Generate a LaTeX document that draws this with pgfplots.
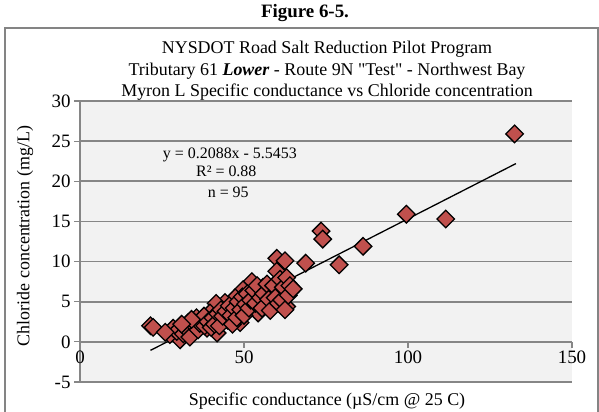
\documentclass[border=0pt]{standalone}
\usepackage{pgfplots}
\pgfplotsset{compat=1.18}
\usepackage{fontspec}
\setmainfont{Liberation Serif}[Ligatures=TeXOff]
\definecolor{bgc}{HTML}{F2F2F2}
\definecolor{gridc}{HTML}{868686}
\definecolor{markc}{HTML}{C0504D}
\definecolor{framec}{HTML}{848484}
\begin{document}
\begin{tikzpicture}
\useasboundingbox (0,0) rectangle (599bp,-412bp);
\draw[framec, line width=1.5bp] (5bp,-412bp) -- (5bp,-28bp) -- (598bp,-28bp) -- (598bp,-412bp);
\node[font=\fontsize{19}{22}\selectfont\bfseries] at (305bp,-13bp) {Figure 6-5.};
\node[font=\fontsize{18}{22}\selectfont] at (327bp,-49bp) {NYSDOT Road Salt Reduction Pilot Program};
\node[font=\fontsize{18}{22}\selectfont] at (327bp,-71bp) {Tributary 61 \textbf{\textit{Lower}} - Route 9N "Test" - Northwest Bay};
\node[font=\fontsize{18}{22}\selectfont] at (327bp,-92bp) {Myron L Specific conductance vs Chloride concentration};
\node[font=\fontsize{18}{22}\selectfont, rotate=90] at (25bp,-236bp) {Chloride concentration (mg/L)};
\node[font=\fontsize{18}{22}\selectfont] at (327bp,-401bp) {Specific conductance (µS/cm @ 25 C)};
\begin{axis}[
  at={(80bp,-382bp)}, anchor=south west,
  scale only axis, width=492bp, height=281bp,
  xmin=0, xmax=150, ymin=-5, ymax=30,
  xtick={0,50,100,150}, ytick={-5,0,5,10,15,20,25,30},
  axis x line=middle, axis y line=left,
  hide obscured x ticks=false,
  axis line style={-, gridc, line width=1.5bp},
  tick style={gridc, line width=1.2bp},
  tick align=outside, major tick length=6bp,
  ymajorgrids, grid style={gridc, line width=1.8bp},
  axis background/.style={fill=bgc},
  tick label style={font=\fontsize{19}{22}\selectfont},
  /pgf/number format/assume math mode=true,
  clip=false,
]
\addplot[only marks, mark=square*, mark size=6.2bp,
  mark options={rotate=45, fill=markc, draw=black, line width=1.3bp}]
  coordinates {
(132.5,25.9) (111.5,15.3) (99.5,15.9) (86.3,11.9) (79.0,9.6) (73.5,13.8) (74.0,12.8)
(68.8,9.8) (60.0,10.4) (62.5,10.1) (60.0,8.8) (63.4,7.3) (64.0,6.2) (63.0,4.4)
(61.6,6.1) (58.8,6.1) (58.5,4.6) (56.4,5.0) (55.8,6.8) (54.3,3.6) (52.4,7.5)
(52.7,5.9) (49.7,6.5) (47.3,5.5) (44.2,4.9) (45.0,2.7) (48.8,2.4) (41.5,4.8)
(41.8,1.1) (43.6,2.7) (39.6,3.6) (38.7,1.7) (37.2,2.7) (34.5,1.2) (33.0,2.4)
(30.5,0.25) (27.4,0.9) (28.4,1.7) (21.5,2.0) (22.3,1.8)
(29.5,1.3) (31.5,1.0) (32.0,1.8) (33.5,0.6) (35.0,2.0) (35.5,3.0) (36.0,1.5)
(36.5,2.3) (37.8,3.2) (38.0,2.0) (39.0,2.5) (40.0,1.8) (40.5,3.0) (41.0,2.2)
(42.0,3.5) (42.5,2.0) (43.0,4.0) (43.5,3.2) (44.5,3.8) (45.5,4.5) (46.0,3.3)
(46.5,2.2) (47.0,4.2) (47.8,3.0) (48.2,5.0) (49.0,4.0) (49.5,5.6) (50.0,3.3)
(50.5,4.7) (51.0,6.0) (51.5,4.2) (52.0,5.2) (53.0,6.4) (53.5,4.8) (54.0,7.0)
(55.0,5.5) (55.5,4.2) (56.0,6.0) (57.0,7.2) (57.5,5.3) (58.0,3.9) (59.0,7.0)
(59.5,5.5) (60.5,4.8) (61.0,7.8) (61.5,5.2) (62.0,6.8) (62.5,4.0) (63.0,8.0)
(63.5,5.8) (64.0,7.0) (65.0,6.6) (34.0,2.8) (26.0,1.2) (31.0,2.2)
  };
\addplot[black, line width=1.3bp] coordinates {(21.5,-1.056) (132.9,22.205)};
\node[font=\fontsize{16}{18}\selectfont] at (axis cs:45.7,23.3) {y = 0.2088x - 5.5453};
\node[font=\fontsize{16}{18}\selectfont] at (axis cs:44.6,21.2) {R² = 0.88};
\node[font=\fontsize{16}{18}\selectfont] at (axis cs:45.2,18.6) {n = 95};
\end{axis}
\end{tikzpicture}
\end{document}
